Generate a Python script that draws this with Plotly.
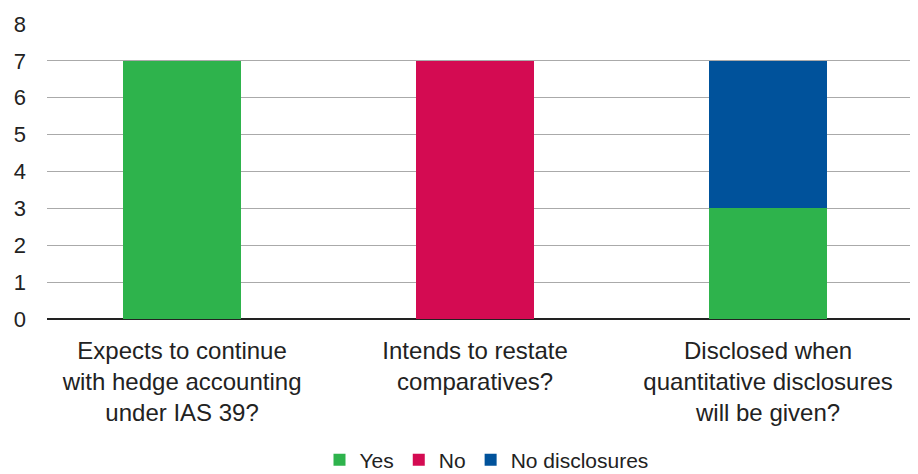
import plotly.graph_objects as go

categories = ["Expects to continue<br>with hedge accounting<br>under IAS 39?",
              "Intends to restate<br>comparatives?",
              "Disclosed when<br>quantitative disclosures<br>will be given?"]
yes_vals = [7, 0, 3]
no_vals = [0, 7, 0]
nodisc_vals = [0, 0, 4]
y_ticks = [0, 1, 2, 3, 4, 5, 6, 7, 8]

font_family = "Liberation Sans, Arial, sans-serif"
xs = [0, 1, 2]

fig = go.Figure()
fig.add_bar(x=xs, y=yes_vals, name="Yes", marker_color="#2EB34C", marker_line_width=0)
fig.add_bar(x=xs, y=no_vals, name="No", marker_color="#D40B52", marker_line_width=0)
fig.add_bar(x=xs, y=nodisc_vals, name="No disclosures", marker_color="#00529B", marker_line_width=0)

fig.update_layout(
    barmode="stack",
    bargap=0.6,
    width=918, height=474,
    margin=dict(l=39, r=0, t=16, b=163, autoexpand=False),
    plot_bgcolor="white", paper_bgcolor="white",
    font=dict(family=font_family, size=21, color="#222222"),
    showlegend=True,
    legend=dict(orientation="h", x=0.5, xanchor="center", xref="paper",
                y=22 / 474, yanchor="middle", yref="container",
                font=dict(size=21), traceorder="normal", itemwidth=30),
    xaxis=dict(tickmode="array", tickvals=xs, ticktext=categories,
               range=[-0.461, 2.539], showgrid=False, ticks="", showline=False,
               tickfont=dict(size=24), automargin=False, ticklabelstandoff=15),
    yaxis=dict(range=[0, 8], tickvals=y_ticks, showgrid=True, gridcolor="#AAAAAA", gridwidth=1.3,
               zeroline=True, zerolinecolor="#222222", zerolinewidth=1.5,
               tickfont=dict(size=22), ticks="", ticklabelstandoff=20, automargin=False),
)

fig.write_html("out.html")
